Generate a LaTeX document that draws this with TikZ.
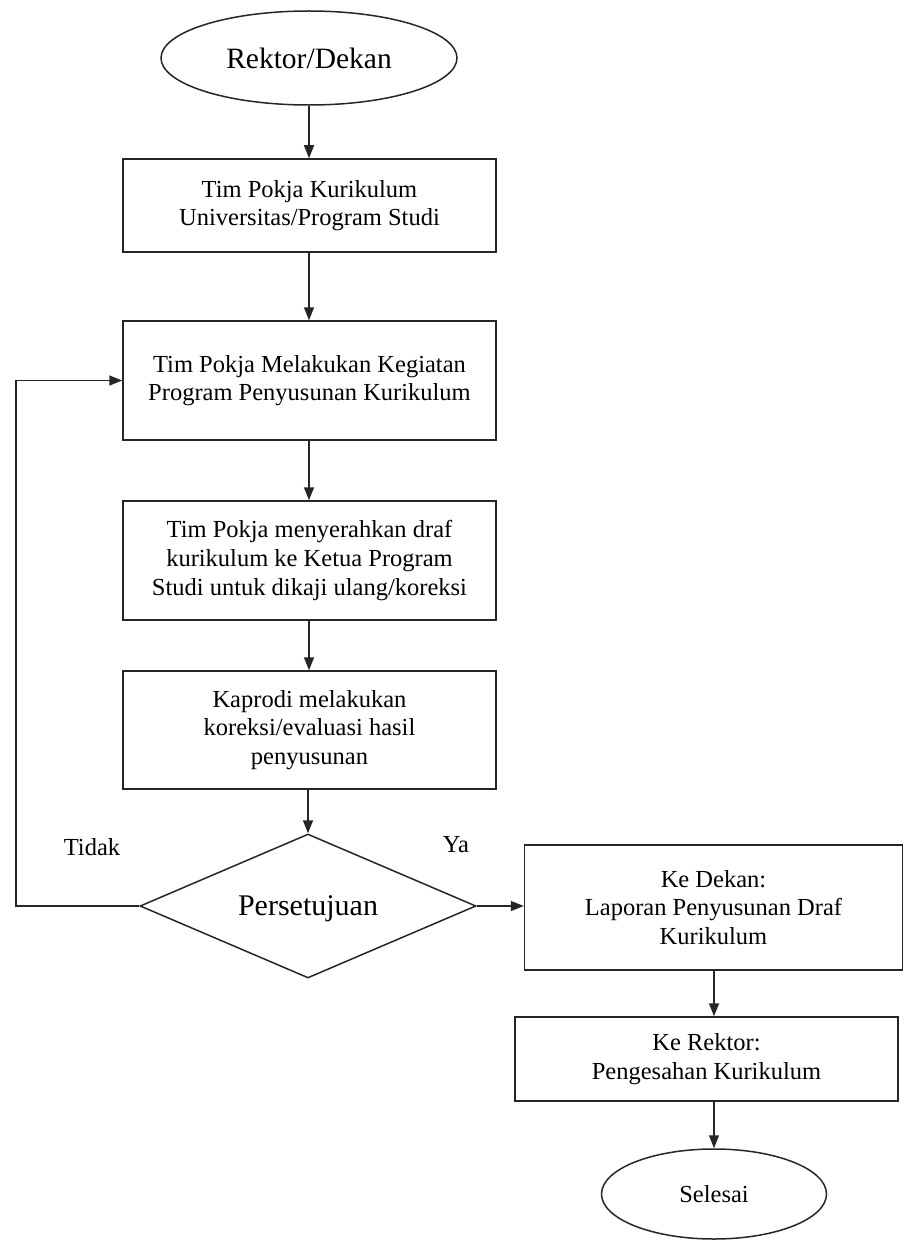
\documentclass[tikz,border=0pt]{standalone}
\usepackage{fontspec}
\setmainfont{Liberation Serif}
\usetikzlibrary{shapes.geometric,arrows.meta}
\tikzset{
  every picture/.style={x=1pt,y=-1pt},
  base/.style={draw=black!85,line width=1.5pt,inner sep=0pt,align=center,
    font=\fontsize{24.5}{28.7}\selectfont},
  procbox/.style={base,rectangle,minimum width=373pt},
  term/.style={base,ellipse},
  decide/.style={base,diamond,minimum width=336pt,minimum height=144pt,
    font=\fontsize{30}{34}\selectfont},
  arr/.style={draw=black!85,line width=1.5pt,-{Triangle[length=13pt,width=10pt]}},
  lab/.style={font=\fontsize{24.5}{28.7}\selectfont}
}
\begin{document}
\begin{tikzpicture}
\fill[white] (0,0) rectangle (904,1241);
\useasboundingbox (0,0) rectangle (904,1241);

\node[term,minimum width=296pt,minimum height=94pt,font=\fontsize{29.5}{34}\selectfont] (e1) at (309,58) {Rektor/Dekan};
\node[procbox,minimum height=93pt] (b1) at (309.5,205.5) {Tim Pokja Kurikulum\\Universitas/Program Studi};
\node[procbox,minimum height=119pt] (b2) at (309.5,380.5) {Tim Pokja Melakukan Kegiatan\\Program Penyusunan Kurikulum};
\node[procbox,minimum height=119pt] (b3) at (309.5,560.5) {Tim Pokja menyerahkan draf\\kurikulum ke Ketua Program\\Studi untuk dikaji ulang/koreksi};
\node[procbox,minimum height=118pt] (b4) at (309.5,730) {Kaprodi melakukan\\koreksi/evaluasi hasil\\penyusunan};
\node[decide] (d) at (308,906) {};
\node[font=\fontsize{30}{34}\selectfont] (dtext) at (308,909) {Persetujuan};
\node[base,rectangle,minimum width=378pt,minimum height=125pt] (b5) at (713.5,907.5) {Ke Dekan:\\Laporan Penyusunan Draf\\Kurikulum};
\node[base,rectangle,minimum width=383pt,minimum height=84pt] (b6) at (706.5,1059) {Ke Rektor:\\Pengesahan Kurikulum};
\node[term,minimum width=225pt,minimum height=90pt] (e2) at (714,1194) {Selesai};

\node[lab] (tidak) at (92,847) {Tidak};
\node[lab] (ya) at (456,845) {Ya};

\coordinate (loopc) at (16,0);

\draw[arr] (e1.south) -- (e1.south |- b1.north);
\draw[arr] (b1.south -| e1.south) -- (b2.north -| e1.south);
\draw[arr] (b2.south -| e1.south) -- (b3.north -| e1.south);
\draw[arr] (b3.south -| e1.south) -- (b4.north -| e1.south);
\draw[arr] (b4.south -| d.north) -- (d.north);
\draw[arr] (d.east) -- (d.east -| b5.west);
\draw[arr] (d.west) -- (d.west -| loopc) |- (b2.west);
\draw[arr] (b5.south -| e2.north) -- (b6.north -| e2.north);
\draw[arr] (b6.south -| e2.north) -- (e2.north);
\end{tikzpicture}
\end{document}
